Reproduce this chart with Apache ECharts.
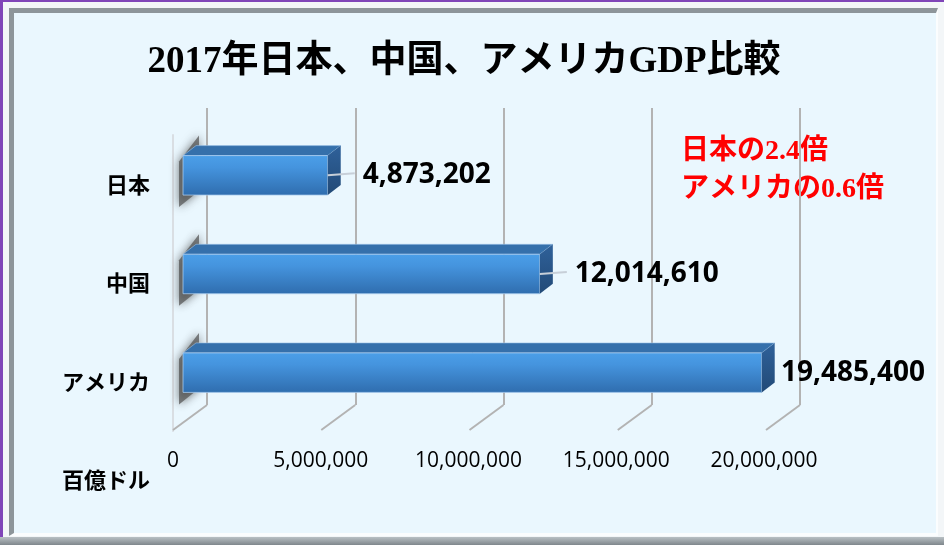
<!DOCTYPE html>
<html>
<head>
<meta charset="utf-8">
<script src="https://cdn.jsdelivr.net/npm/echarts@6/dist/echarts.min.js"></script>
<style>
  html, body { margin: 0; padding: 0; background: #f3f6f8; }
  #wrap { position: relative; width: 944px; height: 545px; overflow: hidden; }
  .purple-l { position: absolute; left: 0; top: 0; width: 3px; height: 545px; background: #8045b8; }
  .purple-t { position: absolute; left: 0; top: 0; width: 944px; height: 2px; background: #8045b8; }
  .frame {
    position: absolute; left: 9px; top: 8px; width: 922px; height: 520px;
    background: #eaf7fe;
    border-left: 5px solid #8d959a; border-top: 5px solid #8d959a;
    border-right: 2px solid #fbfdfe; border-bottom: 3px solid #fbfdfe;
  }
  .band { position: absolute; left: 0; top: 537px; width: 944px; height: 8px;
    background: linear-gradient(#b9c0c4, #7f878c); }
  #main { position: absolute; left: 0; top: 0; width: 944px; height: 545px; }
</style>
</head>
<body>
<div id="wrap">
  <div class="purple-t"></div>
  <div class="purple-l"></div>
  <div class="frame"></div>
  <div class="band"></div>
  <div id="main"></div>
</div>
<script>
// 2017年 GDP
var countries = ['日本', '中国', 'アメリカ'];
var gdp = [4873202, 12014610, 19485400];
var xMax = 20000000;
var xStep = 5000000;
var titleText = '2017年日本、中国、アメリカGDP比較';
var unitText = '百億ドル';
var noteLines = ['日本の2.4倍', 'アメリカの0.6倍'];

var chart = echarts.init(document.getElementById('main'), null, { renderer: 'canvas' });

// 3D風の奥行き
var DX = 13, DY = 10;
var FLOOR_DX = 34, FLOOR_DY = 25;
var labelFont = 'bold 28px "Open Sans"';
var measure = document.createElement('canvas').getContext('2d');
measure.font = labelFont;

function renderBar(params, api) {
  var val = api.value(0);
  var cat = api.value(1);
  var p0 = api.coord([0, cat]);
  var p1 = api.coord([val, cat]);
  var h = api.size([0, 1])[1] * 0.4;
  var x0 = p0[0], x1 = p1[0], ym = p1[1];
  var yt = ym - h / 2, yb = ym + h / 2;

  var text = echarts.format.addCommas(val);
  var tw = measure.measureText(text).width;
  var tx = Math.min(x1 + DX + 22, api.getWidth() - 19 - tw);

  var children = [
    // 左壁の影
    {
      type: 'polygon',
      shape: { points: [[x0 - 4, yt + 6], [x0 + 16, yt - 20], [x0 + 16, yb - 4], [x0 - 4, yb + 12]] },
      style: { fill: 'rgba(80,80,80,0.7)', shadowBlur: 10, shadowColor: 'rgba(40,40,40,0.9)' }
    },
    // 上面
    {
      type: 'polygon',
      shape: { points: [[x0, yt], [x0 + DX, yt - DY], [x1 + DX, yt - DY], [x1, yt]] },
      style: { fill: '#3570ab', stroke: '#9ec3e8', lineWidth: 0.6 }
    },
    // 前面
    {
      type: 'rect',
      shape: { x: x0, y: yt, width: x1 - x0, height: h },
      style: {
        fill: new echarts.graphic.LinearGradient(0, 0, 0, 1, [
          { offset: 0, color: '#4b9fe8' },
          { offset: 0.3, color: '#4594de' },
          { offset: 1, color: '#2f6dae' }
        ]),
        stroke: '#a9cbee', lineWidth: 0.8
      }
    },
    // 側面
    {
      type: 'polygon',
      shape: { points: [[x1, yt], [x1 + DX, yt - DY], [x1 + DX, yb - DY], [x1, yb]] },
      style: {
        fill: new echarts.graphic.LinearGradient(0, 0, 0, 1, [
          { offset: 0, color: '#2f619a' },
          { offset: 1, color: '#224a77' }
        ])
      }
    }
  ];
  if (tx - (x1 + DX) > 12) {
    children.push({
      type: 'line',
      shape: { x1: x1, y1: ym, x2: tx - 8, y2: ym - 2 },
      style: { stroke: '#c7cfd8', lineWidth: 2 }
    });
  }
  children.push({
    type: 'text',
    style: {
      x: tx, y: ym, text: text, font: labelFont, fill: '#000',
      textAlign: 'left', textVerticalAlign: 'middle'
    }
  });
  return { type: 'group', children: children };
}

function renderFloor(params, api) {
  var p = api.coord([api.value(0), 0]);
  return {
    type: 'line',
    shape: { x1: p[0], y1: p[1], x2: p[0] - FLOOR_DX, y2: p[1] + FLOOR_DY },
    style: { stroke: '#b3b3b3', lineWidth: 2 }
  };
}

var tickVals = [];
for (var v = 0; v <= xMax; v += xStep) tickVals.push([v]);

var option = {
  animation: false,
  backgroundColor: 'transparent',
  textStyle: { fontFamily: '"Open Sans", "Noto Sans CJK JP", sans-serif' },
  grid: [
    // 棒
    { left: 183, width: 594, top: 126, height: 296 },
    // 手前の面（ラベル）
    { left: 173, width: 591, top: 135, height: 296 },
    // 奥の壁
    { left: 207, width: 593, top: 108, height: 297 }
  ],
  xAxis: [
    { gridIndex: 0, type: 'value', min: 0, max: xMax, interval: xStep, show: false },
    {
      gridIndex: 1, type: 'value', min: 0, max: xMax, interval: xStep,
      axisLine: { show: false }, axisTick: { show: false }, splitLine: { show: false },
      axisLabel: {
        margin: 20, color: '#000', fontSize: 21, fontFamily: '"Open Sans"',
        formatter: function (v) { return echarts.format.addCommas(v); }
      }
    },
    {
      gridIndex: 2, type: 'value', min: 0, max: xMax, interval: xStep,
      axisLine: { show: false }, axisTick: { show: false }, axisLabel: { show: false },
      splitLine: { show: true, lineStyle: { color: '#b3b3b3', width: 2 } }
    }
  ],
  yAxis: [
    { gridIndex: 0, type: 'category', data: countries, inverse: true, show: false },
    {
      gridIndex: 1, type: 'category', data: countries, inverse: true,
      axisLine: { show: true, lineStyle: { color: '#d9dee3', width: 2 } },
      axisTick: { show: false },
      axisLabel: {
        margin: 23, color: '#000', fontSize: 22, fontWeight: 'bold',
        fontFamily: '"Noto Sans CJK JP"'
      }
    },
    { gridIndex: 2, type: 'value', min: 0, max: 1, show: false }
  ],
  graphic: [
    {
      type: 'text', x: 464, y: 62,
      style: {
        text: titleText, fill: '#000', textAlign: 'center', textVerticalAlign: 'middle',
        font: 'bold 37px "Liberation Serif", "Noto Sans CJK JP"'
      }
    },
    {
      type: 'text', x: 681, y: 152,
      style: {
        text: noteLines[0], fill: '#ff0000', textAlign: 'left', textVerticalAlign: 'middle',
        font: 'bold 28px "Liberation Serif", "Noto Sans CJK JP"'
      }
    },
    {
      type: 'text', x: 681, y: 190,
      style: {
        text: noteLines[1], fill: '#ff0000', textAlign: 'left', textVerticalAlign: 'middle',
        font: 'bold 28px "Liberation Serif", "Noto Sans CJK JP"'
      }
    },
    {
      type: 'text', x: 150, y: 480,
      style: {
        text: unitText, fill: '#000', textAlign: 'right', textVerticalAlign: 'middle',
        font: 'bold 22px "Noto Sans CJK JP"'
      }
    }
  ],
  series: [
    {
      type: 'custom', name: 'floor', xAxisIndex: 2, yAxisIndex: 2,
      renderItem: renderFloor, data: tickVals, silent: true, z: 1
    },
    {
      type: 'custom', name: 'GDP', xAxisIndex: 0, yAxisIndex: 0,
      renderItem: renderBar, encode: { x: 0, y: 1 },
      data: gdp.map(function (g, i) { return [g, i]; }), z: 3
    }
  ]
};

chart.setOption(option);
</script>
</body>
</html>
